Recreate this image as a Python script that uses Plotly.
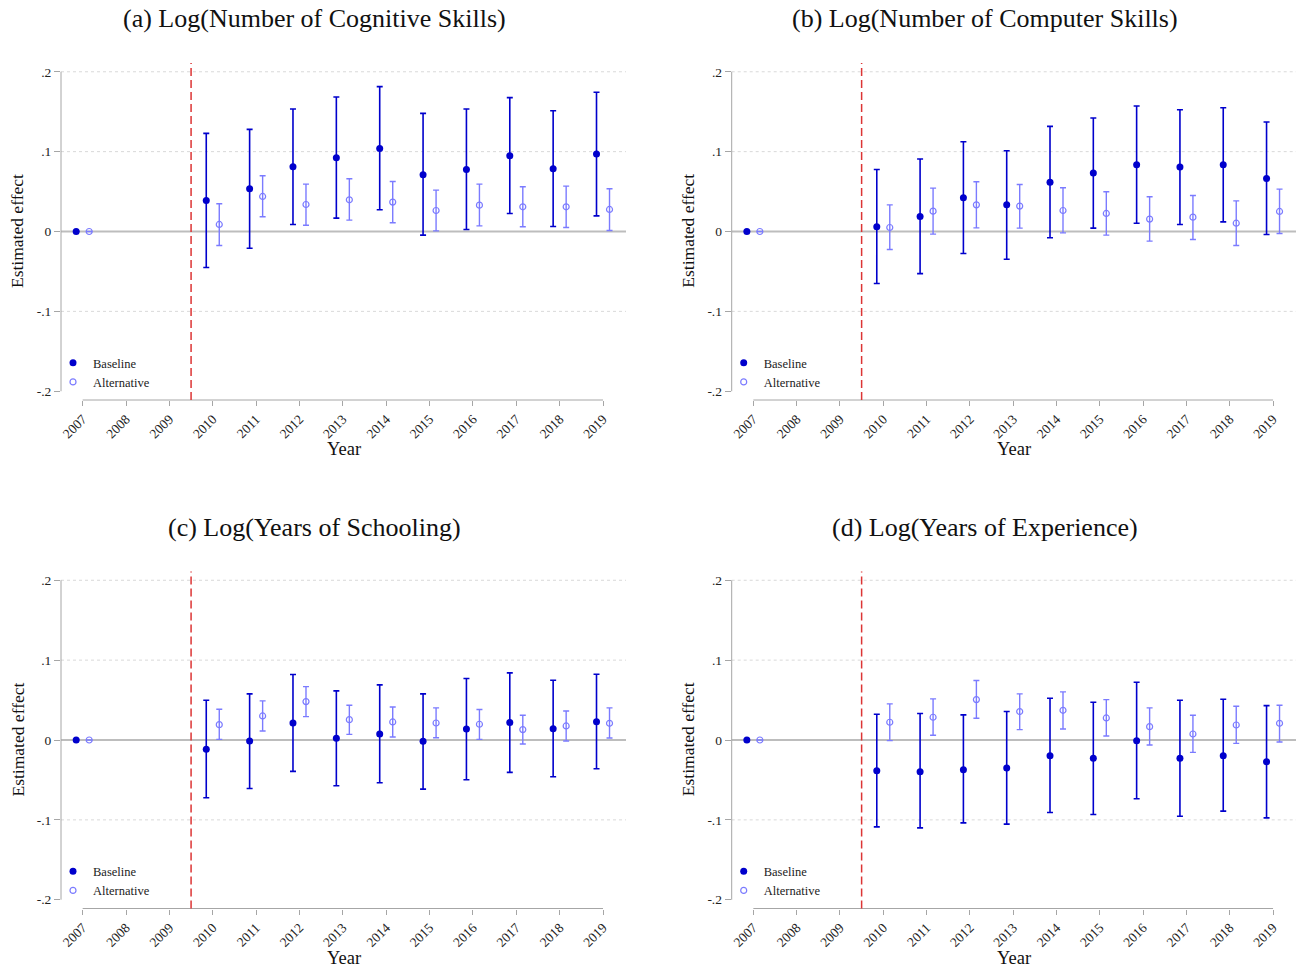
import plotly.graph_objects as go

# Event-study estimates with 95% confidence intervals, 2007 is the reference year
years = [2007, 2010, 2011, 2012, 2013, 2014, 2015, 2016, 2017, 2018, 2019]
year_ticks = list(range(2007, 2020))
y_ticks = [-0.2, -0.1, 0, 0.1, 0.2]
y_tick_text = ["-.2", "-.1", "0", ".1", ".2"]

panel_titles = [
    "(a) Log(Number of Cognitive Skills)",
    "(b) Log(Number of Computer Skills)",
    "(c) Log(Years of Schooling)",
    "(d) Log(Years of Experience)",
]

# (a) cognitive skills
cog_base = [0, 0.0389, 0.0535, 0.0811, 0.0924, 0.1040, 0.0710, 0.0777, 0.0949, 0.0786, 0.0970]
cog_base_lo = [None, -0.0451, -0.0209, 0.0088, 0.0167, 0.0272, -0.0046, 0.0025, 0.0226, 0.0063, 0.0196]
cog_base_hi = [None, 0.1229, 0.1279, 0.1534, 0.1684, 0.1814, 0.1479, 0.1534, 0.1676, 0.1513, 0.1743]
cog_alt = [0, 0.0088, 0.0439, 0.0338, 0.0397, 0.0368, 0.0263, 0.0330, 0.0309, 0.0309, 0.0276]
cog_alt_lo = [None, -0.0176, 0.0184, 0.0079, 0.0142, 0.0109, 0.0008, 0.0071, 0.0059, 0.0050, 0.0013]
cog_alt_hi = [None, 0.0347, 0.0698, 0.0593, 0.0660, 0.0627, 0.0518, 0.0593, 0.0560, 0.0568, 0.0535]

# (b) computer skills
comp_base = [0, 0.0059, 0.0188, 0.0422, 0.0334, 0.0618, 0.0731, 0.0836, 0.0807, 0.0836, 0.0664]
comp_base_lo = [None, -0.0652, -0.0527, -0.0276, -0.0347, -0.0079, 0.0042, 0.0104, 0.0088, 0.0121, -0.0038]
comp_base_hi = [None, 0.0777, 0.0907, 0.1124, 0.1011, 0.1316, 0.1421, 0.1571, 0.1525, 0.1550, 0.1371]
comp_alt = [0, 0.0050, 0.0255, 0.0334, 0.0318, 0.0263, 0.0226, 0.0155, 0.0180, 0.0104, 0.0251]
comp_alt_lo = [None, -0.0226, -0.0033, 0.0046, 0.0042, -0.0017, -0.0046, -0.0121, -0.0100, -0.0176, -0.0025]
comp_alt_hi = [None, 0.0334, 0.0543, 0.0623, 0.0589, 0.0547, 0.0497, 0.0435, 0.0451, 0.0384, 0.0531]

# (c) years of schooling
sch_base = [0, -0.0117, -0.0013, 0.0213, 0.0021, 0.0075, -0.0017, 0.0138, 0.0218, 0.0142, 0.0230]
sch_base_lo = [None, -0.0724, -0.0607, -0.0393, -0.0573, -0.0536, -0.0615, -0.0498, -0.0406, -0.0460, -0.0360]
sch_base_hi = [None, 0.0498, 0.0577, 0.0820, 0.0615, 0.0690, 0.0577, 0.0770, 0.0841, 0.0749, 0.0824]
sch_alt = [0, 0.0192, 0.0301, 0.0481, 0.0255, 0.0226, 0.0213, 0.0197, 0.0130, 0.0176, 0.0209]
sch_alt_lo = [None, 0.0008, 0.0113, 0.0293, 0.0071, 0.0038, 0.0029, 0.0008, -0.0050, -0.0013, 0.0025]
sch_alt_hi = [None, 0.0385, 0.0490, 0.0669, 0.0435, 0.0414, 0.0402, 0.0381, 0.0310, 0.0364, 0.0402]

# (d) years of experience
exp_base = [0, -0.0385, -0.0397, -0.0372, -0.0351, -0.0197, -0.0230, -0.0008, -0.0230, -0.0197, -0.0272]
exp_base_lo = [None, -0.1088, -0.1100, -0.1038, -0.1054, -0.0908, -0.0933, -0.0736, -0.0954, -0.0891, -0.0975]
exp_base_hi = [None, 0.0322, 0.0331, 0.0314, 0.0356, 0.0523, 0.0473, 0.0724, 0.0498, 0.0510, 0.0431]
exp_alt = [0, 0.0222, 0.0285, 0.0506, 0.0356, 0.0372, 0.0276, 0.0167, 0.0075, 0.0188, 0.0209]
exp_alt_lo = [None, -0.0008, 0.0059, 0.0272, 0.0130, 0.0138, 0.0050, -0.0063, -0.0155, -0.0042, -0.0025]
exp_alt_hi = [None, 0.0452, 0.0515, 0.0745, 0.0577, 0.0603, 0.0506, 0.0402, 0.0310, 0.0423, 0.0435]

panels = [
    (cog_base, cog_base_lo, cog_base_hi, cog_alt, cog_alt_lo, cog_alt_hi),
    (comp_base, comp_base_lo, comp_base_hi, comp_alt, comp_alt_lo, comp_alt_hi),
    (sch_base, sch_base_lo, sch_base_hi, sch_alt, sch_alt_lo, sch_alt_hi),
    (exp_base, exp_base_lo, exp_base_hi, exp_alt, exp_alt_lo, exp_alt_hi),
]

BASE_COLOR = "#0000cc"
ALT_COLOR = "#7b7bff"
AXIS_COLOR = "#a6a6a6"
FONT = "Liberation Serif"
W, H = 1302, 968
OFFSET = 0.15  # horizontal dodge between the two estimates
X_RANGE = [2006.5, 2019.53]
Y_RANGE = [-0.211, 0.211]

# plot-area boxes in pixels: (left, right, top, bottom)
boxes = [(61, 626, 63, 400), (731.7, 1296, 63, 400),
         (61, 626, 571.5, 908.5), (731.7, 1296, 571.5, 908.5)]


def err_up(est, hi):
    return [None if h is None else h - e for e, h in zip(est, hi)]


def err_down(est, lo):
    return [None if l is None else e - l for e, l in zip(est, lo)]


fig = go.Figure()
layout = dict(
    width=W, height=H, margin=dict(l=0, r=0, t=0, b=0),
    paper_bgcolor="white", plot_bgcolor="white",
    font=dict(family=FONT, color="#222222"),
    showlegend=True,
)
shapes = []
annotations = []

for i, (data, box) in enumerate(zip(panels, boxes)):
    n = "" if i == 0 else str(i + 1)
    xa, ya = "x" + n, "y" + n
    leg = "legend" + n
    b, b_lo, b_hi, a, a_lo, a_hi = data
    left, right, top, bottom = box

    fig.add_trace(go.Scatter(
        x=[yr - OFFSET for yr in years], y=b, mode="markers", name="Baseline",
        xaxis=xa, yaxis=ya, legend=leg,
        marker=dict(color=BASE_COLOR, size=7, symbol="circle"),
        error_y=dict(type="data", symmetric=False, array=err_up(b, b_hi),
                     arrayminus=err_down(b, b_lo), color=BASE_COLOR,
                     thickness=1.6, width=3),
    ))
    fig.add_trace(go.Scatter(
        x=[yr + OFFSET for yr in years], y=a, mode="markers", name="Alternative",
        xaxis=xa, yaxis=ya, legend=leg,
        marker=dict(color=ALT_COLOR, size=6, symbol="circle-open",
                    line=dict(width=1.2, color=ALT_COLOR)),
        error_y=dict(type="data", symmetric=False, array=err_up(a, a_hi),
                     arrayminus=err_down(a, a_lo), color=ALT_COLOR,
                     thickness=1.4, width=3),
    ))

    xdom = [left / W, right / W]
    ydom = [1 - bottom / H, 1 - top / H]
    layout["xaxis" + n] = dict(
        domain=xdom, anchor=ya, range=X_RANGE, tickvals=year_ticks,
        ticktext=[str(t) for t in year_ticks], tickangle=-45,
        ticks="outside", ticklen=5, tickcolor=AXIS_COLOR, tickwidth=1,
        showgrid=False, zeroline=False, showline=False,
        tickfont=dict(family=FONT, size=13.5, color="#222222"),
    )
    layout["yaxis" + n] = dict(
        domain=ydom, anchor=xa, range=Y_RANGE, tickvals=y_ticks,
        ticktext=y_tick_text, ticks="outside", ticklen=6,
        tickcolor=AXIS_COLOR, tickwidth=1,
        showgrid=False, zeroline=False, showline=False,
        tickfont=dict(family=FONT, size=13.5, color="#222222"),
    )

    xr, yr_ = xa, ya
    xd, yd = xa + " domain", ya + " domain"
    # dotted grid lines
    for g in (0.2, 0.1, -0.1):
        shapes.append(dict(type="line", xref=xd, yref=yr_, x0=0, x1=1, y0=g, y1=g,
                           line=dict(color="#d9d9d9", width=1, dash="dot"), layer="below"))
    # reference line at zero
    shapes.append(dict(type="line", xref=xd, yref=yr_, x0=0, x1=1, y0=0, y1=0,
                       line=dict(color="#bdbdbd", width=2.2), layer="below"))
    # axis lines spanning only the labelled range
    shapes.append(dict(type="line", xref=xd, yref=yr_, x0=0, x1=0, y0=-0.2, y1=0.2,
                       line=dict(color=AXIS_COLOR, width=1)))
    shapes.append(dict(type="line", xref=xr, yref=yd, x0=2007, x1=2019, y0=0, y1=0,
                       line=dict(color=AXIS_COLOR, width=1)))
    # treatment onset
    shapes.append(dict(type="line", xref=xr, yref=yd, x0=2009.5, x1=2009.5, y0=0, y1=1,
                       line=dict(color="#dc3535", width=1.5, dash="8px,4px")))

    panel_left = left - 61
    cx = (left + right) / 2
    annotations.append(dict(
        text=panel_titles[i], xref="paper", yref="paper",
        x=(panel_left + 314) / W, y=1 - (top - 44) / H,
        xanchor="center", yanchor="middle", showarrow=False,
        font=dict(family=FONT, size=26, color="#111111"),
    ))
    annotations.append(dict(
        text="Year", xref="paper", yref="paper",
        x=cx / W, y=1 - (bottom + 49) / H, xanchor="center", yanchor="middle",
        showarrow=False, font=dict(family=FONT, size=18.5, color="#111111"),
    ))
    annotations.append(dict(
        text="Estimated effect", xref="paper", yref="paper",
        x=(panel_left + 17) / W, y=1 - (top + 168) / H, xanchor="center",
        yanchor="middle", textangle=-90, showarrow=False,
        font=dict(family=FONT, size=17.5, color="#111111"),
    ))

    layout[leg] = dict(
        x=(panel_left + 53) / W, y=1 - (top + 285) / H, xanchor="left", yanchor="top",
        bgcolor="rgba(0,0,0,0)", borderwidth=0,
        font=dict(family=FONT, size=12.5, color="#222222"),
        tracegroupgap=0, itemwidth=30,
    )

layout["shapes"] = shapes
layout["annotations"] = annotations
fig.update_layout(**layout)

fig.write_html("out.html")
